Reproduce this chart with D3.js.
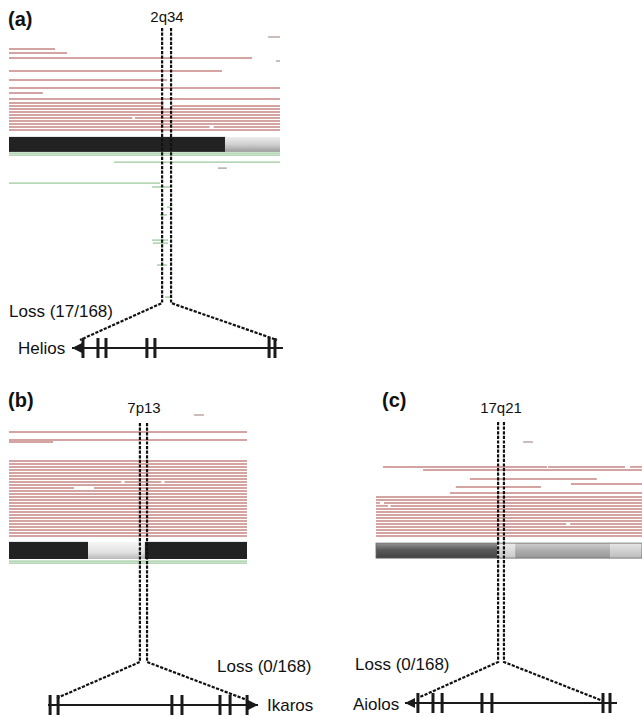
<!DOCTYPE html>
<html><head><meta charset="utf-8">
<script src="https://cdn.jsdelivr.net/npm/d3@7"></script>
<style>
body{margin:0;background:#fff}
svg{display:block}
text{font-family:"Liberation Sans",Arial,sans-serif;fill:#111}
</style>
</head><body>
<svg id="chart" width="642" height="717"></svg>
<script>
// ---------------- DATA ----------------
const panelLabels = ["(a)", "(b)", "(c)"];
const bandNames   = ["2q34", "7p13", "17q21"];
const geneNames   = ["Helios", "Ikaros", "Aiolos"];
const lossLabels  = ["Loss (17/168)", "Loss (0/168)", "Loss (0/168)"];

// segments: [lane, start, end]  (start/end in % of displayed region)
const aLoss = [[4,0,17],[5.3,0,21.4],[7,0,89.7],[11.3,0,78.6],[14.3,0,58.3],[17,0,100],[18.7,0,12.5],[20.7,0,100],
  [22,0,57],[23,0,57],[23,60,100],[24,0,100],[25,0,100],[26,0,100],[27,0,45.5],[27,46.5,100],[28,0,100],
  [29,0,100],[30,0,74],[30,75.5,100],[31,0,100]];
const aOther = [[0,95.6,100],[8,98.5,100],[43.7,77.1,80.4]];
const aGain = [[38.7,0,100],[39.4,0,100],[41.7,38.7,100],[48.7,0,55.7],[50,52.8,60.1],[56.7,58.3,59.8],
  [59.3,55.7,58.3],[67.7,52.8,58.7],[68.7,53.1,58.7],[76,54.6,58.3],[86.7,57.6,59.4]];

const bLoss = [[5.7,0,100],[8.3,0,100],[9,0,18.5],
  [15.3,0,100],[16.3,0,100],[17.3,0,100],[18.3,0,100],[19.3,0,100],[20.3,0,100],[21.3,0,100],
  [22.3,0,47.2],[22.3,48.5,64],[22.3,65.3,100],[23.3,0,100],[24.3,0,27.3],[24.3,35.7,100],
  [25.3,0,100],[26.3,0,100],[27.3,0,100],[28.3,0,100],[29.3,0,100],[30.3,0,100],[31.3,0,100],
  [32.3,0,100],[33.3,0,100],[34.3,0,100],[35.3,0,100],[36.3,0,100],[37.3,0,100],[38.3,0,100],
  [39.3,0,100],[40.3,0,100]];
const bOther = [[0,77.7,81.9]];
const bGain = [[48.7,0,100],[49.4,0,100]];

const cLoss = [[8.3,2.6,64.3],[8.3,64.7,93.6],[8.3,95.5,100],[9.3,17.7,100],[12.3,35.3,83],[14,73.3,100],
  [15,30,62],[17,27.8,100],
  [18.3,0,100],[19.3,0,100],[20.3,0,1.5],[20.3,3,100],[21.3,0,4.5],[21.3,5.5,100],[22.3,0,100],[23.3,0,100],
  [24.3,0,100],[25.3,0,100],[26.3,0,100],[27.3,0,71.5],[27.3,73,100],[28.3,0,100],[29.3,0,100],
  [30.3,0,100],[31.3,0,100]];
const cOther = [[0,55.3,59]];
const cGain = [];

// chromosome band ideogram: [start, end, style]
const aBands = [[0,79.7,"dark"],[79.7,100,"fadeA"]];
const bBands = [[0,33.2,"dark"],[33.2,57.1,"lightB"],[57.1,100,"dark"]];
const cBands = [[0,45.5,"darkC"],[45.5,52.3,"lightC"],[52.3,88,"midC"],[88,100,"lightC2"]];

// locus position (two dashed lines) in % of displayed region
const locusA = [56.5, 59.8];
const locusB = [55.0, 58.0];
const locusC = [45.9, 48.1];

// exon positions along each gene (% of gene length)
const aExons = [5.2, 12.3, 16.1, 35.5, 39.3, 93.4, 96.2];
const bExons = [1.0, 4.8, 59.0, 63.8, 81.9, 86.7, 94.8];
const cExons = [6.1, 13.2, 17.5, 36.3, 41.0, 93.4, 96.7];

// ---------------- LAYOUT ----------------
const layouts = [
  {loss:aLoss, other:aOther, gain:aGain, bands:aBands, locus:locusA, exons:aExons,
   track:[9,280], y0:37, bar:[33.3,38.3], vTop:28, vBot:303, gene:[72,283], geneY:348, dir:"left",
   diag:[3.8,97.2], diagY:[340,340],
   lab:[8,26], band:[167,22], lossT:[9,317], geneT:[18,354]},
  {loss:bLoss, other:bOther, gain:bGain, bands:bBands, locus:locusB, exons:bExons,
   track:[9,247], y0:415, bar:[42.3,48], vTop:423, vBot:662, gene:[48,258], geneY:705, dir:"right",
   diag:[4.3,94.8], diagY:[698,700],
   lab:[8,407], band:[144,413], lossT:[217,672], geneT:[267,711]},
  {loss:cLoss, other:cOther, gain:cGain, bands:cBands, locus:locusC, exons:cExons,
   track:[376,642], y0:442, bar:[33.7,38.7], vTop:422, vBot:662, gene:[405,617], geneY:703, dir:"left",
   diag:[7.1,93.4], diagY:[697,701],
   lab:[382,407], band:[501,413], lossT:[355,670], geneT:[353,710]}
];

const svg = d3.select("#chart");
const defs = svg.append("defs");
function vgrad(id, stops){
  const g = defs.append("linearGradient").attr("id", id).attr("x1",0).attr("y1",0).attr("x2",0).attr("y2",1);
  stops.forEach(s => g.append("stop").attr("offset", s[0]).attr("stop-color", s[1]));
}
vgrad("fadeA", [[0,"#eeeeee"],[0.5,"#cfcfcf"],[1,"#9c9c9c"]]);
vgrad("lightB", [[0,"#f6f6f6"],[0.6,"#e2e2e2"],[1,"#b8b8b8"]]);
vgrad("darkC", [[0,"#949494"],[0.45,"#5a5a5a"],[1,"#424242"]]);
vgrad("lightC", [[0,"#ececec"],[1,"#c8c8c8"]]);
vgrad("midC", [[0,"#cfcfcf"],[0.5,"#adadad"],[1,"#989898"]]);
vgrad("lightC2", [[0,"#e6e6e6"],[1,"#bcbcbc"]]);
const fills = {dark:"#222", fadeA:"url(#fadeA)", lightB:"url(#lightB)", darkC:"url(#darkC)",
  lightC:"url(#lightC)", midC:"url(#midC)", lightC2:"url(#lightC2)"};

layouts.forEach((L, i) => {
  const g = svg.append("g");
  const x = d3.scaleLinear().domain([0,100]).range(L.track);
  const y = d3.scaleLinear().domain([0,1]).range([L.y0, L.y0 + 3]);
  const gx = d3.scaleLinear().domain([0,100]).range(L.gene);

  // segment lines
  const seg = (data, color, w) => g.append("g").selectAll("line").data(data).join("line")
    .attr("x1", d => x(d[1])).attr("x2", d => x(d[2]))
    .attr("y1", d => y(d[0])).attr("y2", d => y(d[0]))
    .attr("stroke", color).attr("stroke-width", w);
  seg(L.loss, "#d4a4a2", 2);
  seg(L.other, "#b09a9a", 1.3);
  seg(L.gain, "#9cc89c", 1.3);

  // ideogram bar
  g.append("g").selectAll("rect").data(L.bands).join("rect")
    .attr("x", d => x(d[0])).attr("width", d => x(d[1]) - x(d[0]))
    .attr("y", y(L.bar[0])).attr("height", y(L.bar[1]) - y(L.bar[0]))
    .attr("fill", d => fills[d[2]]);
  if (i === 2) {
    g.append("rect").attr("x", x(0)).attr("width", x(100) - x(0))
      .attr("y", y(L.bar[0])).attr("height", y(L.bar[1]) - y(L.bar[0]))
      .attr("fill", "none").attr("stroke", "#666").attr("stroke-width", 0.8);
  }

  // dashed locus lines with fan to gene
  const xl = x(L.locus[0]), xr = x(L.locus[1]);
  const dash = "3.2,1.4";
  g.append("path").attr("d", `M${xl},${L.vTop}V${L.vBot}L${gx(L.diag[0])},${L.diagY[0]}`)
    .attr("fill","none").attr("stroke","#111").attr("stroke-width",2.2).attr("stroke-dasharray",dash);
  g.append("path").attr("d", `M${xr},${L.vTop}V${L.vBot}L${gx(L.diag[1])},${L.diagY[1]}`)
    .attr("fill","none").attr("stroke","#111").attr("stroke-width",2.2).attr("stroke-dasharray",dash);

  // gene model
  g.append("line").attr("x1", gx(0)).attr("x2", gx(100)).attr("y1", L.geneY).attr("y2", L.geneY)
    .attr("stroke","#1a1a1a").attr("stroke-width",2.2);
  g.append("g").selectAll("line").data(L.exons).join("line")
    .attr("x1", d => gx(d)).attr("x2", d => gx(d))
    .attr("y1", L.geneY - 10).attr("y2", L.geneY + 10)
    .attr("stroke","#1a1a1a").attr("stroke-width",3);
  const tip = L.dir === "left" ? gx(0) : gx(100);
  const s = L.dir === "left" ? 1 : -1;
  g.append("path").attr("d", `M${tip},${L.geneY}L${tip + s*10},${L.geneY-5}L${tip + s*10},${L.geneY+5}Z`)
    .attr("fill","#1a1a1a");

  // texts
  g.append("text").attr("x", L.lab[0]).attr("y", L.lab[1]).attr("font-size", 20).attr("font-weight","bold")
    .text(panelLabels[i]);
  g.append("text").attr("x", L.band[0]).attr("y", L.band[1]).attr("font-size", 15).attr("text-anchor","middle")
    .text(bandNames[i]);
  g.append("text").attr("x", L.lossT[0]).attr("y", L.lossT[1]).attr("font-size", 17)
    .text(lossLabels[i]);
  g.append("text").attr("x", L.geneT[0]).attr("y", L.geneT[1]).attr("font-size", 17)
    .text(geneNames[i]);
});
</script>
</body></html>
